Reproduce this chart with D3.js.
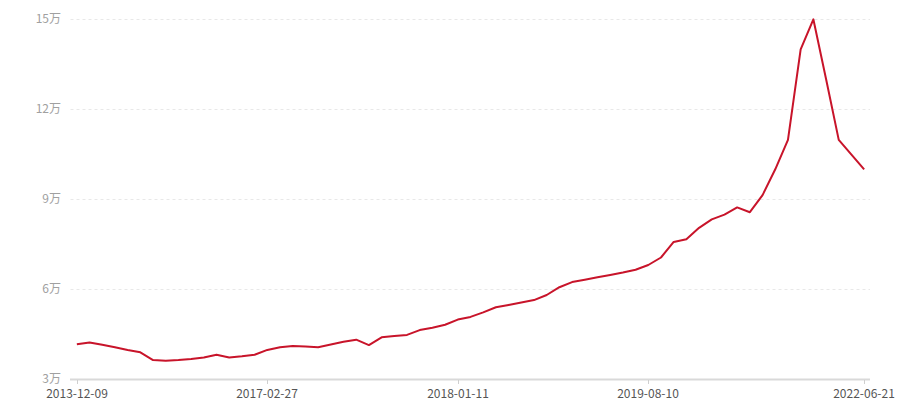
<!DOCTYPE html>
<html>
<head>
<meta charset="utf-8">
<script src="https://cdn.jsdelivr.net/npm/d3@7/dist/d3.min.js"></script>
<style>
  html, body { margin: 0; padding: 0; background: #fff; }
  #chart { width: 900px; height: 400px; }
  text { font-family: "Noto Sans CJK SC", "Noto Sans", sans-serif; font-size: 12px; }
</style>
</head>
<body>
<div id="chart"></div>
<script>
// values in 万, one per category (63 periods)
var VALUES = [
  4.16, 4.22, 4.14, 4.06, 3.97, 3.89, 3.63, 3.61, 3.63, 3.67,
  3.72, 3.81, 3.72, 3.76, 3.81, 3.97, 4.06, 4.10, 4.08, 4.06,
  4.15, 4.24, 4.31, 4.13, 4.39, 4.43, 4.47, 4.63, 4.71, 4.81,
  4.98, 5.07, 5.22, 5.39, 5.47, 5.55, 5.63, 5.80, 6.06, 6.23,
  6.31, 6.39, 6.47, 6.55, 6.64, 6.80, 7.05, 7.57, 7.66, 8.04,
  8.32, 8.48, 8.72, 8.56, 9.13, 9.99, 10.97, 13.99, 14.99, 13.0,
  10.97, 10.48, 9.99
];
var TICK_INDEX = [0, 15, 30, 45, 62];
var TICK_LABELS = ["2013-12-09", "2017-02-27", "2018-01-11", "2019-08-10", "2022-06-21"];
var Y_TICKS = [3, 6, 9, 12, 15];

(function () {
  var width = 900, height = 400;
  var margin = { left: 70, right: 30, top: 19, bottom: 21 };

  var svg = d3.select("#chart").append("svg")
    .attr("width", width)
    .attr("height", height);

  var x = d3.scaleBand()
    .domain(d3.range(VALUES.length))
    .range([margin.left + 0.5, width - margin.right + 0.5]);

  var y = d3.scaleLinear()
    .domain([3, 15])
    .range([height - margin.bottom, margin.top]);

  var cx = function (i) { return x(i) + x.bandwidth() / 2; };

  // grid + y labels
  var yAxis = svg.append("g").attr("transform", "translate(" + margin.left + ",0)");
  yAxis.selectAll("line.grid")
    .data(Y_TICKS.slice(1))
    .enter().append("line")
    .attr("x1", 0.5).attr("x2", width - margin.right - margin.left)
    .attr("y1", function (d) { return Math.round(y(d)) + 0.5; })
    .attr("y2", function (d) { return Math.round(y(d)) + 0.5; })
    .attr("stroke", "#e8e8e8")
    .attr("stroke-dasharray", "3,3");
  yAxis.selectAll("text")
    .data(Y_TICKS)
    .enter().append("text")
    .attr("x", -9)
    .attr("y", function (d) { return y(d); })
    .attr("dy", "0.35em")
    .attr("text-anchor", "end")
    .attr("fill", "#a0a0a0")
    .text(function (d) { return d + "万"; });

  // x axis
  var xAxis = svg.append("g").attr("transform", "translate(0," + (height - margin.bottom) + ")");
  xAxis.append("line")
    .attr("x1", margin.left).attr("x2", width - margin.right)
    .attr("y1", 0.5).attr("y2", 0.5)
    .attr("stroke", "#d9d9d9")
    .attr("stroke-width", 2);
  var ticks = xAxis.selectAll("g.tick")
    .data(TICK_INDEX)
    .enter().append("g")
    .attr("transform", function (d) { return "translate(" + Math.round(cx(d)) + ",0)"; });
  ticks.append("line")
    .attr("x1", 0.5).attr("x2", 0.5)
    .attr("y1", 1).attr("y2", 5)
    .attr("stroke", "#cfcfcf");
  ticks.append("text")
    .attr("y", 15)
    .attr("dy", "0.35em")
    .attr("text-anchor", "middle")
    .attr("fill", "#555")
    .text(function (d, i) { return TICK_LABELS[i]; });

  // line
  var line = d3.line()
    .x(function (d, i) { return cx(i); })
    .y(function (d) { return y(d); });

  svg.append("path")
    .datum(VALUES)
    .attr("d", line)
    .attr("fill", "none")
    .attr("stroke", "#c8142a")
    .attr("stroke-width", 2)
    .attr("stroke-linejoin", "round");
})();
</script>
</body>
</html>
